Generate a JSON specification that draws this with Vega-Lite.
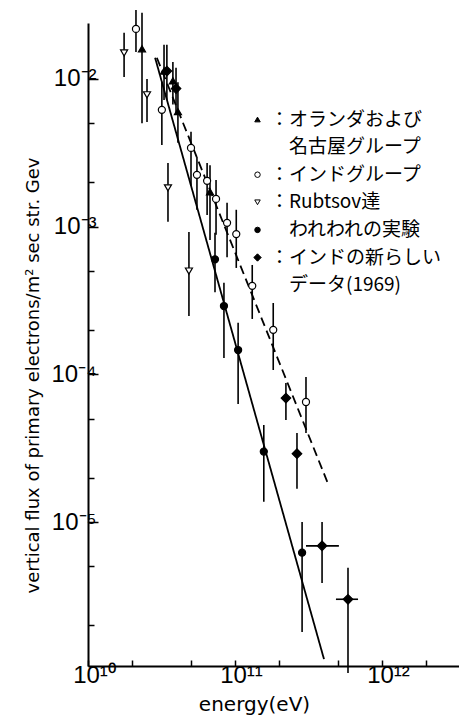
{
  "$schema": "https://vega.github.io/schema/vega-lite/v6.json",
  "width": 371,
  "height": 643,
  "autosize": {"type": "none"},
  "padding": {"left": 88, "top": 23, "right": 0, "bottom": 54},
  "background": "white",
  "config": {
    "view": {"stroke": null},
    "axis": {"grid": false},
    "font": "DejaVu Sans"
  },
  "datasets": {
    "points": [
      {"series": "オランダおよび名古屋グループ", "E": 2.33e10, "flux": 1.60e-2, "lo": 5.0e-3, "hi": 2.8e-2},
      {"series": "オランダおよび名古屋グループ", "E": 3.29e10, "flux": 1.13e-2, "lo": 7.2e-3, "hi": 1.7e-2},
      {"series": "オランダおよび名古屋グループ", "E": 3.78e10, "flux": 9.7e-3, "lo": 6.7e-3, "hi": 1.3e-2},
      {"series": "オランダおよび名古屋グループ", "E": 4.09e10, "flux": 6.0e-3, "lo": 3.7e-3, "hi": 9.5e-3},
      {"series": "オランダおよび名古屋グループ", "E": 6.76e10, "flux": 1.72e-3, "lo": 8.1e-4, "hi": 2.6e-3},
      {"series": "インドグループ", "E": 2.12e10, "flux": 2.18e-2, "lo": 1.52e-2, "hi": 2.93e-2},
      {"series": "インドグループ", "E": 3.18e10, "flux": 6.17e-3, "lo": 3.57e-3, "hi": 9.55e-3},
      {"series": "インドグループ", "E": 5.02e10, "flux": 3.41e-3, "lo": 1.89e-3, "hi": 4.38e-3},
      {"series": "インドグループ", "E": 5.51e10, "flux": 2.24e-3, "lo": 1.30e-3, "hi": 2.96e-3},
      {"series": "インドグループ", "E": 6.46e10, "flux": 2.04e-3, "lo": 1.20e-3, "hi": 2.70e-3},
      {"series": "インドグループ", "E": 7.43e10, "flux": 1.54e-3, "lo": 8.8e-4, "hi": 2.07e-3},
      {"series": "インドグループ", "E": 8.83e10, "flux": 1.06e-3, "lo": 6.2e-4, "hi": 1.45e-3},
      {"series": "インドグループ", "E": 1.02e11, "flux": 8.9e-4, "lo": 5.25e-4, "hi": 1.30e-3},
      {"series": "インドグループ", "E": 1.31e11, "flux": 3.97e-4, "lo": 2.37e-4, "hi": 5.5e-4},
      {"series": "インドグループ", "E": 1.82e11, "flux": 2.0e-4, "lo": 1.07e-4, "hi": 3.04e-4},
      {"series": "インドグループ", "E": 3.04e11, "flux": 6.5e-5, "lo": 4.0e-5, "hi": 9.6e-5},
      {"series": "Rubtsov達", "E": 1.76e10, "flux": 1.50e-2, "lo": 1.03e-2, "hi": 2.05e-2},
      {"series": "Rubtsov達", "E": 2.52e10, "flux": 7.8e-3, "lo": 5.1e-3, "hi": 1.0e-2},
      {"series": "Rubtsov達", "E": 3.50e10, "flux": 1.83e-3, "lo": 1.08e-3, "hi": 2.7e-3},
      {"series": "Rubtsov達", "E": 4.86e10, "flux": 5.0e-4, "lo": 2.48e-4, "hi": 9.2e-4},
      {"series": "われわれの実験", "E": 7.31e10, "flux": 6.0e-4, "lo": 3.6e-4, "hi": 9.1e-4},
      {"series": "われわれの実験", "E": 8.41e10, "flux": 2.9e-4, "lo": 1.29e-4, "hi": 4.16e-4},
      {"series": "われわれの実験", "E": 1.05e11, "flux": 1.46e-4, "lo": 6.3e-5, "hi": 2.23e-4},
      {"series": "われわれの実験", "E": 1.57e11, "flux": 3.0e-5, "lo": 1.37e-5, "hi": 4.54e-5},
      {"series": "われわれの実験", "E": 2.86e11, "flux": 6.2e-6, "lo": 1.8e-6, "hi": 1.0e-5},
      {"series": "インドの新らしいデータ(1969)", "E": 3.44e10, "flux": 1.13e-2, "lo": 7.2e-3, "hi": 1.7e-2},
      {"series": "インドの新らしいデータ(1969)", "E": 3.97e10, "flux": 8.6e-3, "lo": 5.7e-3, "hi": 1.19e-2},
      {"series": "インドの新らしいデータ(1969)", "E": 2.22e11, "flux": 6.9e-5, "lo": 4.9e-5, "hi": 8.75e-5},
      {"series": "インドの新らしいデータ(1969)", "E": 2.64e11, "flux": 2.9e-5, "lo": 1.68e-5, "hi": 4.0e-5},
      {"series": "インドの新らしいデータ(1969)", "E": 3.91e11, "flux": 6.9e-6, "lo": 3.87e-6, "hi": 1.0e-5, "Elo": 3.04e11, "Ehi": 5.09e11},
      {"series": "インドの新らしいデータ(1969)", "E": 5.87e11, "flux": 3.0e-6, "lo": 9.5e-7, "hi": 4.9e-6, "Elo": 4.86e11, "Ehi": 6.87e11}
    ],
    "fits": [
      {"fit": "solid", "E": 2.86e10, "flux": 1.39e-2},
      {"fit": "solid", "E": 4.03e11, "flux": 1.18e-6},
      {"fit": "dashed", "E": 2.94e10, "flux": 1.39e-2},
      {"fit": "dashed", "E": 4.36e11, "flux": 1.75e-5}
    ]
  },
  "layer": [
    {
      "data": {"name": "points"},
      "mark": {"type": "rule", "color": "black", "strokeWidth": 1.6},
      "encoding": {
        "x": {
          "field": "E", "type": "quantitative", "title": "energy(eV)",
          "scale": {"type": "log", "domain": [1e10, 3.34e12], "nice": false},
          "axis": {
            "values": [1e10, 2e10, 5e10, 1e11, 2e11, 5e11, 1e12, 2e12],
            "labelExpr": "datum.value == 1e10 ? '10¹⁰' : datum.value == 1e11 ? '10¹¹' : datum.value == 1e12 ? '10¹²' : ''",
            "tickSize": -6, "tickWidth": 1.5, "tickColor": "black",
            "domainColor": "black", "domainWidth": 2,
            "labelFont": "Liberation Sans", "labelFontSize": 24, "labelColor": "black",
            "labelPadding": 3, "labelOffset": 6, "labelFlush": false, "labelOverlap": false, "labelBound": false,
            "titleFont": "DejaVu Sans", "titleFontSize": 20, "titleFontWeight": "normal", "titleColor": "black",
            "titleX": 166, "titleY": 38, "titleAlign": "center", "titleBaseline": "middle"
          }
        },
        "y": {
          "field": "lo", "type": "quantitative", "title": "vertical flux of primary electrons/m² sec str. Gev",
          "scale": {"type": "log", "domain": [1.06e-6, 2.39e-2], "nice": false},
          "axis": {
            "values": [2e-6, 5e-6, 1e-5, 2e-5, 5e-5, 1e-4, 2e-4, 5e-4, 1e-3, 2e-3, 5e-3, 1e-2],
            "labelExpr": "datum.value == 0.01 ? '10⁻²' : datum.value == 0.001 ? '10⁻³' : datum.value == 0.0001 ? '10⁻⁴' : datum.value == 0.00001 ? '10⁻⁵' : ''",
            "tickSize": {"condition": {"test": "datum.value == 0.01 || datum.value == 0.001 || datum.value == 0.0001 || datum.value == 0.00001", "value": -10}, "value": -6},
            "tickWidth": 1.5, "tickColor": "black",
            "domainColor": "black", "domainWidth": 2,
            "labelFont": "Liberation Sans", "labelFontSize": 24, "labelColor": "black",
            "labelPadding": 2, "labelBaseline": "middle", "labelOverlap": false, "labelBound": false, "labelFlush": false,
            "titleFont": "DejaVu Sans", "titleFontSize": 18, "titleFontWeight": "normal", "titleColor": "black",
            "titleX": -55, "titleY": 352, "titleAngle": 270, "titleAlign": "center", "titleBaseline": "middle"
          }
        },
        "y2": {"field": "hi"}
      }
    },
    {
      "data": {"name": "points"},
      "transform": [{"filter": "isValid(datum.Elo)"}],
      "mark": {"type": "rule", "color": "black", "strokeWidth": 1.6},
      "encoding": {
        "x": {"field": "Elo", "type": "quantitative", "title": "energy(eV)"},
        "x2": {"field": "Ehi"},
        "y": {"field": "flux", "type": "quantitative", "title": "vertical flux of primary electrons/m² sec str. Gev"}
      }
    },
    {
      "data": {"name": "fits"},
      "mark": {"type": "line", "color": "black", "strokeWidth": 1.8},
      "encoding": {
        "x": {"field": "E", "type": "quantitative", "title": "energy(eV)"},
        "y": {"field": "flux", "type": "quantitative", "title": "vertical flux of primary electrons/m² sec str. Gev"},
        "strokeDash": {"field": "fit", "type": "nominal", "scale": {"domain": ["solid", "dashed"], "range": [[1, 0], [9, 5]]}, "legend": null}
      }
    },
    {
      "data": {"name": "points"},
      "mark": {"type": "point", "filled": true, "strokeWidth": 1.2, "opacity": 1, "size": 50},
      "encoding": {
        "x": {"field": "E", "type": "quantitative", "title": "energy(eV)"},
        "y": {"field": "flux", "type": "quantitative", "title": "vertical flux of primary electrons/m² sec str. Gev"},
        "shape": {
          "field": "series", "type": "nominal",
          "scale": {"domain": ["オランダおよび名古屋グループ", "名古屋グループ", "インドグループ", "Rubtsov達", "われわれの実験", "インドの新らしいデータ(1969)", "データ(1969)"], "range": ["triangle-up", "circle", "circle", "triangle-down", "circle", "M-1.35,0L0,-1.35L1.35,0L0,1.35Z", "circle"]},
          "legend": {
            "orient": "none", "legendX": 160, "legendY": 87, "title": null, "padding": 0,
            "labelExpr": "datum.label == 'オランダおよび名古屋グループ' ? '：オランダおよび' : datum.label == 'インドの新らしいデータ(1969)' ? '：インドの新らしい' : (datum.label == '名古屋グループ' || datum.label == 'データ(1969)' || datum.label == 'われわれの実験') ? '\u200b\u3000' + datum.label : '：' + datum.label",
            "labelFont": "Noto Sans CJK JP", "labelFontSize": 19, "labelColor": "black", "labelLimit": 300, "labelOffset": 3,
            "symbolSize": 30, "symbolStrokeWidth": 1, "rowPadding": 7.6
          }
        },
        "fill": {
          "field": "series", "type": "nominal",
          "scale": {"domain": ["オランダおよび名古屋グループ", "名古屋グループ", "インドグループ", "Rubtsov達", "われわれの実験", "インドの新らしいデータ(1969)", "データ(1969)"], "range": ["black", "transparent", "white", "white", "black", "black", "transparent"]},
          "legend": {
            "orient": "none", "legendX": 160, "legendY": 87, "title": null, "padding": 0,
            "labelExpr": "datum.label == 'オランダおよび名古屋グループ' ? '：オランダおよび' : datum.label == 'インドの新らしいデータ(1969)' ? '：インドの新らしい' : (datum.label == '名古屋グループ' || datum.label == 'データ(1969)' || datum.label == 'われわれの実験') ? '\u200b\u3000' + datum.label : '：' + datum.label",
            "labelFont": "Noto Sans CJK JP", "labelFontSize": 19, "labelColor": "black", "labelLimit": 300, "labelOffset": 3,
            "symbolSize": 30, "symbolStrokeWidth": 1, "rowPadding": 7.6
          }
        },
        "stroke": {
          "field": "series", "type": "nominal",
          "scale": {"domain": ["オランダおよび名古屋グループ", "名古屋グループ", "インドグループ", "Rubtsov達", "われわれの実験", "インドの新らしいデータ(1969)", "データ(1969)"], "range": ["black", "transparent", "black", "black", "black", "black", "transparent"]},
          "legend": {
            "orient": "none", "legendX": 160, "legendY": 87, "title": null, "padding": 0,
            "labelExpr": "datum.label == 'オランダおよび名古屋グループ' ? '：オランダおよび' : datum.label == 'インドの新らしいデータ(1969)' ? '：インドの新らしい' : (datum.label == '名古屋グループ' || datum.label == 'データ(1969)' || datum.label == 'われわれの実験') ? '\u200b\u3000' + datum.label : '：' + datum.label",
            "labelFont": "Noto Sans CJK JP", "labelFontSize": 19, "labelColor": "black", "labelLimit": 300, "labelOffset": 3,
            "symbolSize": 30, "symbolStrokeWidth": 1, "rowPadding": 7.6
          }
        }
      }
    }
  ]
}
